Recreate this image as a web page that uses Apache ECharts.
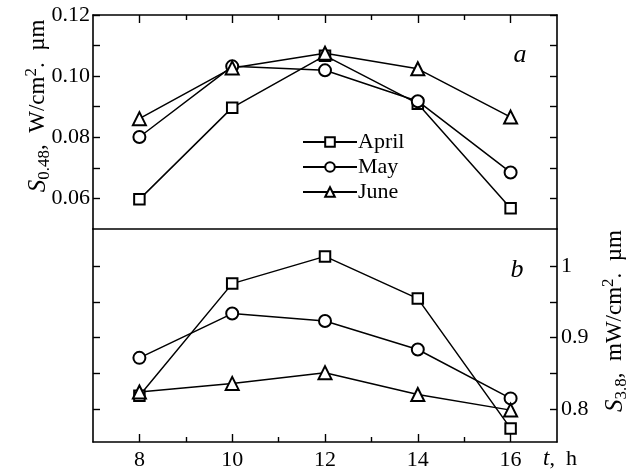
<!DOCTYPE html>
<html>
<head>
<meta charset="utf-8">
<script src="https://cdn.jsdelivr.net/npm/echarts@6/dist/echarts.min.js"></script>
<style>
    html, body { margin: 0; padding: 0; background: #fff; }
    #chart { width: 634px; height: 475px; }
</style>
</head>
<body>
<div id="chart"></div>
<script type="text/javascript">
// hours of the day
let hours = [8, 10, 12, 14, 16];
let seriesNames = ['April', 'May', 'June'];

// panel a: S0.48, W/cm2·µm
let aprilA = [0.0597, 0.0897, 0.1067, 0.0910, 0.0568];
let mayA = [0.0801, 0.1032, 0.1019, 0.0918, 0.0685];
let juneA = [0.0861, 0.1027, 0.1075, 0.1024, 0.0866];

// panel b: S3.8, mW/cm2·µm
let aprilB = [0.8186, 0.9756, 1.0137, 0.9546, 0.7730];
let mayB = [0.8717, 0.9337, 0.9233, 0.8834, 0.8150];
let juneB = [0.8240, 0.8360, 0.8510, 0.8205, 0.7986];

// ticks
let xMajor = [8, 10, 12, 14, 16];
let xMinor = [9, 11, 13, 15];
let yTicksA = [0.06, 0.07, 0.08, 0.09, 0.10, 0.11, 0.12];
let yLabelsA = [0.06, 0.08, 0.10, 0.12];
let yTicksB = [0.8, 0.85, 0.9, 0.95, 1.0];
let yLabelsB = [0.8, 0.9, 1.0];

let serif = '"Liberation Serif", "DejaVu Serif", serif';
let symbols = ['emptyRect', 'emptyCircle', 'emptyTriangle'];
let symbolSizes = [10.5, 12, 13];

function pairs (ys) {
    return hours.map((h, i) => [h, ys[i]]);
}

function xAxisDef (grid, pos, opts) {
    return Object.assign({
        type: 'value',
        gridIndex: grid,
        position: pos,
        min: 7,
        max: 17,
        splitLine: { show: false },
        axisLine: { show: true, onZero: false, lineStyle: { color: '#000', width: 1.6 } },
        axisTick: { show: false },
        axisLabel: { show: false }
    }, opts);
}

function yAxisDef (grid, pos, min, max, ticks, opts) {
    return Object.assign({
        type: 'value',
        gridIndex: grid,
        position: pos,
        min: min,
        max: max,
        splitLine: { show: false },
        axisLine: { show: true, onZero: false, lineStyle: { color: '#000', width: 1.6 } },
        axisTick: { show: true, inside: true, length: 7, customValues: ticks, lineStyle: { color: '#000', width: 1.4 } },
        axisLabel: { show: false }
    }, opts);
}

function titleRich () {
    return {
        s: { fontFamily: serif, fontStyle: 'italic', fontSize: 25, lineHeight: 30, verticalAlign: 'middle' },
        n: { fontFamily: serif, fontSize: 23, lineHeight: 30, verticalAlign: 'middle' },
        sub: { fontFamily: serif, fontSize: 17, lineHeight: 30, verticalAlign: 'bottom' },
        sup: { fontFamily: serif, fontSize: 17, lineHeight: 30, verticalAlign: 'top' }
    };
}

let seriesList = [];
[[aprilA, mayA, juneA], [aprilB, mayB, juneB]].forEach((group, g) => {
    group.forEach((ys, k) => {
        seriesList.push({
            name: seriesNames[k],
            type: 'line',
            xAxisIndex: g === 0 ? 0 : 3,
            yAxisIndex: g === 0 ? 0 : 2,
            data: pairs(ys),
            symbol: symbols[k],
            symbolSize: symbolSizes[k],
            lineStyle: { color: '#000', width: 1.5 },
            itemStyle: { color: '#000', borderColor: '#000', borderWidth: 1.3 },
            emphasis: { disabled: true },
            z: 3
        });
    });
});

let labelStyle = { color: '#000', fontFamily: serif, fontSize: 22 };

let option = {
    animation: false,
    backgroundColor: '#fff',
    grid: [
        { left: 93, top: 15, width: 464, height: 214 },
        { left: 93, top: 229, width: 464, height: 213 }
    ],
    legend: {
        data: seriesNames,
        orient: 'vertical',
        left: 297,
        top: 126,
        itemWidth: 54,
        itemHeight: 12,
        itemGap: 3,
        textStyle: { color: '#000', fontFamily: serif, fontSize: 22, padding: [0, 0, 0, -4] },
        inactiveColor: '#000'
    },
    xAxis: [
        xAxisDef(0, 'top', { axisTick: { show: true, inside: true, length: 8, customValues: xMajor, lineStyle: { color: '#000', width: 1.4 } } }),
        xAxisDef(0, 'top', { axisLine: { show: false }, axisTick: { show: true, inside: true, length: 5, customValues: xMinor, lineStyle: { color: '#000', width: 1.4 } } }),
        xAxisDef(0, 'bottom', {}),
        xAxisDef(1, 'bottom', {
            axisTick: { show: true, inside: true, length: 8, customValues: xMajor, lineStyle: { color: '#000', width: 1.4 } },
            axisLabel: Object.assign({ show: true, customValues: xMajor, margin: 7 }, labelStyle)
        }),
        xAxisDef(1, 'bottom', { axisLine: { show: false }, axisTick: { show: true, inside: true, length: 5, customValues: xMinor, lineStyle: { color: '#000', width: 1.4 } } })
    ],
    yAxis: [
        yAxisDef(0, 'left', 0.05, 0.12, yTicksA, {
            axisLabel: Object.assign({ show: true, customValues: yLabelsA, margin: 3, formatter: v => v.toFixed(2) }, labelStyle)
        }),
        yAxisDef(0, 'right', 0.05, 0.12, yTicksA, {}),
        yAxisDef(1, 'right', 0.754, 1.052, yTicksB, {
            axisLabel: Object.assign({ show: true, customValues: yLabelsB, margin: 4, formatter: v => String(Math.round(v * 10) / 10) }, labelStyle)
        }),
        yAxisDef(1, 'left', 0.754, 1.052, yTicksB, {})
    ],
    graphic: [
        {
            type: 'text', x: 38, y: 106, rotation: Math.PI / 2,
            style: {
                text: '{s|S}{sub|0.48}{n|,  W/cm}{sup|2}{n|.  µm}',
                align: 'center', verticalAlign: 'middle', fill: '#000',
                rich: titleRich()
            }
        },
        {
            type: 'text', x: 615, y: 321, rotation: Math.PI / 2,
            style: {
                text: '{s|S}{sub|3.8}{n|,  mW/cm}{sup|2}{n|.  µm}',
                align: 'center', verticalAlign: 'middle', fill: '#000',
                rich: titleRich()
            }
        },
        {
            type: 'text', x: 543, y: 459,
            style: {
                text: '{i|t},  h', fill: '#000', fontFamily: serif, fontSize: 22,
                align: 'left', verticalAlign: 'middle',
                rich: { i: { fontFamily: serif, fontStyle: 'italic', fontSize: 23 } }
            }
        },
        {
            type: 'text', x: 520, y: 55,
            style: { text: 'a', fill: '#000', fontFamily: serif, fontStyle: 'italic', fontSize: 26, align: 'center', verticalAlign: 'middle' }
        },
        {
            type: 'text', x: 517, y: 270,
            style: { text: 'b', fill: '#000', fontFamily: serif, fontStyle: 'italic', fontSize: 26, align: 'center', verticalAlign: 'middle' }
        }
    ],
    series: seriesList
};

let mainChart = echarts.init(document.getElementById('chart'));
mainChart.setOption(option);
</script>
</body>
</html>
